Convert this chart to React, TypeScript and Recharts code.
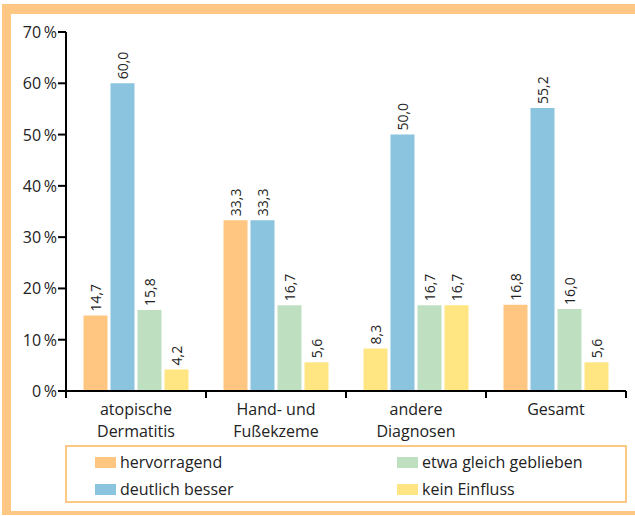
import React from 'react';
import { BarChart, Bar, XAxis, YAxis, Cell, LabelList } from 'recharts';

const categories = ['atopische\nDermatitis', 'Hand- und\nFußekzeme', 'andere\nDiagnosen', 'Gesamt'];
const hervorragend = [14.7, 33.3, 8.3, 16.8];
const deutlichBesser = [60.0, 33.3, 50.0, 55.2];
const etwaGleich = [15.8, 16.7, 16.7, 16.0];
const keinEinfluss = [4.2, 5.6, 16.7, 5.6];
const yTicks = [0, 10, 20, 30, 40, 50, 60, 70];

const seriesNames = ['hervorragend', 'deutlich besser', 'etwa gleich geblieben', 'kein Einfluss'];

const ORANGE = '#FFC682';
const BLUE = '#8BC4DE';
const GREEN = '#BEDFC0';
const YELLOW = '#FFE682';
const FRAME = '#FFC784';
const FONT = '"Open Sans", sans-serif';

const series = [
  { key: 'h', name: seriesNames[0], color: ORANGE, values: hervorragend },
  { key: 'd', name: seriesNames[1], color: BLUE, values: deutlichBesser },
  { key: 'e', name: seriesNames[2], color: GREEN, values: etwaGleich },
  { key: 'k', name: seriesNames[3], color: YELLOW, values: keinEinfluss },
];

// the original prints the "hervorragend" bar of "andere Diagnosen" in yellow
const colorOverride: Record<string, string> = { 'h-2': YELLOW };

const data = categories.map((c, i) => {
  const row: any = { cat: c };
  series.forEach((s) => (row[s.key] = s.values[i]));
  return row;
});

const fmt = (v: number) => v.toFixed(1).replace('.', ',');

const ValueLabel = (props: any) => {
  const { x, y, width, value } = props;
  const cx = x + width / 2;
  const ty = y - 4;
  return (
    <text
      x={cx}
      y={ty}
      transform={`rotate(-90 ${cx} ${ty})`}
      textAnchor="start"
      dominantBaseline="central"
      fontSize={14}
      fontFamily={FONT}
      fill="#222"
    >
      {fmt(value)}
    </text>
  );
};

const XTick = (props: any) => {
  const { x, y, payload, index } = props;
  const lines = String(payload.value).split('\n');
  const half = 70;
  return (
    <g>
      <line x1={x - half} y1={y - 8} x2={x - half} y2={y - 1} stroke="#000" strokeWidth={2} />
      {index === categories.length - 1 && (
        <line x1={x + half} y1={y - 8} x2={x + half} y2={y - 1} stroke="#000" strokeWidth={2} />
      )}
      <text x={x} y={y + 16} textAnchor="middle" fontSize={16} fontFamily={FONT} fill="#222">
        {lines.map((l, i) => (
          <tspan key={i} x={x} dy={i === 0 ? 0 : 22}>
            {l}
          </tspan>
        ))}
      </text>
    </g>
  );
};

const YTick = (props: any) => {
  const { x, y, payload } = props;
  return (
    <text x={x} y={y} textAnchor="end" dominantBaseline="central" fontSize={16} fontFamily={FONT} fill="#222">
      {`${payload.value}\u2009%`}
    </text>
  );
};

const App = () => {
  return (
    <div style={{ position: 'absolute', left: 0, top: 0, width: 635, height: 516, background: '#fff', overflow: 'hidden' }}>
      <div
        style={{
          position: 'absolute',
          left: 2,
          top: 4,
          width: 660,
          height: 497,
          borderLeft: `9px solid ${FRAME}`,
          borderTop: `10px solid ${FRAME}`,
          borderBottom: `4px solid ${FRAME}`,
        }}
      />
      <div style={{ position: 'absolute', left: 0, top: 0 }}>
        <BarChart
          width={635}
          height={442}
          data={data}
          margin={{ top: 32, right: 9, left: 0, bottom: 0 }}
          barCategoryGap="12.5%"
          barGap={3}
        >
          <YAxis
            type="number"
            domain={[0, 70]}
            ticks={yTicks}
            width={66}
            axisLine={{ stroke: '#000', strokeWidth: 2 }}
            tickLine={{ stroke: '#000', strokeWidth: 2 }}
            tickSize={8}
            tickMargin={1}
            tick={<YTick />}
            interval={0}
          />
          <XAxis
            dataKey="cat"
            height={51}
            axisLine={{ stroke: '#000', strokeWidth: 2 }}
            tickLine={false}
            tick={<XTick />}
            interval={0}
          />
          {series.map((s, si) => (
            <Bar key={s.key} dataKey={s.key} name={s.name} fill={s.color} isAnimationActive={false}>
              {data.map((_, i) => (
                <Cell key={i} fill={colorOverride[`${s.key}-${i}`] || s.color} />
              ))}
              <LabelList dataKey={s.key} content={<ValueLabel />} />
            </Bar>
          ))}
        </BarChart>
      </div>
      <div
        style={{
          position: 'absolute',
          left: 65,
          top: 445,
          width: 558,
          height: 54,
          border: `2px solid ${FRAME}`,
          fontFamily: FONT,
          fontSize: 16,
          color: '#222',
        }}
      >
        {[series[0], series[2], series[1], series[3]].map((s, i) => (
          <div
            key={s.key}
            style={{
              position: 'absolute',
              left: i % 2 === 0 ? 28 : 330,
              top: i < 2 ? 3 : 30,
              display: 'flex',
              alignItems: 'center',
              height: 24,
              whiteSpace: 'nowrap',
            }}
          >
            <span style={{ display: 'inline-block', width: 21, height: 11, background: s.color, marginRight: 4 }} />
            {s.name}
          </div>
        ))}
      </div>
    </div>
  );
};

export default App;
